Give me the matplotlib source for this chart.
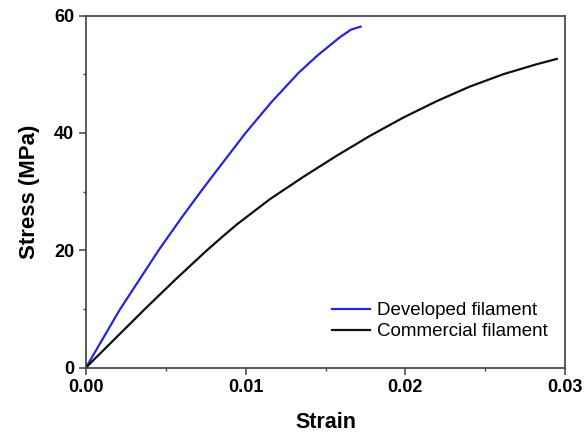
import matplotlib
matplotlib.use("Agg")
import matplotlib.pyplot as plt
from matplotlib.ticker import MultipleLocator

plt.rcParams['font.family'] = ['Liberation Sans', 'DejaVu Sans']

# stress-strain data
dev_strain = [0.0, 0.0021, 0.0046, 0.0060, 0.0073, 0.0087, 0.0100, 0.0116,
              0.0133, 0.0145, 0.0159, 0.0166, 0.0172]
dev_stress = [0.0, 9.8, 20.2, 25.6, 30.4, 35.4, 40.0, 45.2,
              50.2, 53.2, 56.3, 57.6, 58.1]

com_strain = [0.0, 0.0037, 0.0056, 0.0075, 0.0085, 0.0095, 0.01152, 0.01361,
              0.0157, 0.01779, 0.01987, 0.02196, 0.02405, 0.02614, 0.02823,
              0.02948]
com_stress = [0.0, 10.0, 15.0, 19.8, 22.2, 24.5, 28.7, 32.5,
              36.1, 39.5, 42.6, 45.4, 47.9, 50.0, 51.7,
              52.6]

fig = plt.figure(figsize=(5.86, 4.36), dpi=100)
ax = fig.add_axes([0.1468, 0.1571, 0.8174, 0.8073])

ax.plot(dev_strain, dev_stress, color='#2626dc', lw=1.6, label='Developed filament')
ax.plot(com_strain, com_stress, color='#101010', lw=1.6, label='Commercial filament')

ax.set_xlim(0, 0.03)
ax.set_ylim(0, 60)
ax.xaxis.set_minor_locator(MultipleLocator(0.005))
ax.yaxis.set_major_locator(MultipleLocator(20))
ax.yaxis.set_minor_locator(MultipleLocator(10))
ax.set_xticks([0, 0.01, 0.02, 0.03])
ax.set_xticklabels(['0.00', '0.01', '0.02', '0.03'])

for s in ax.spines.values():
    s.set_color('#404040')
    s.set_linewidth(1.2)
ax.tick_params(which='major', direction='out', length=5, width=1.1,
               color='#404040', labelsize=13, pad=3.5)
ax.tick_params(which='minor', direction='out', length=2.5, width=1.0, color='#404040')
for lab in ax.get_xticklabels() + ax.get_yticklabels():
    lab.set_fontweight('bold')

ax.set_xlabel('Strain', fontsize=15.5, fontweight='bold', labelpad=11)
ax.set_ylabel('Stress (MPa)', fontsize=16, fontweight='bold', labelpad=10)

ax.legend(loc='lower right', bbox_to_anchor=(1.0, 0.03), frameon=False,
          fontsize=13.5, handlelength=2.0, handletextpad=0.4, labelspacing=0.2)

fig.savefig('out.png', dpi=100)
